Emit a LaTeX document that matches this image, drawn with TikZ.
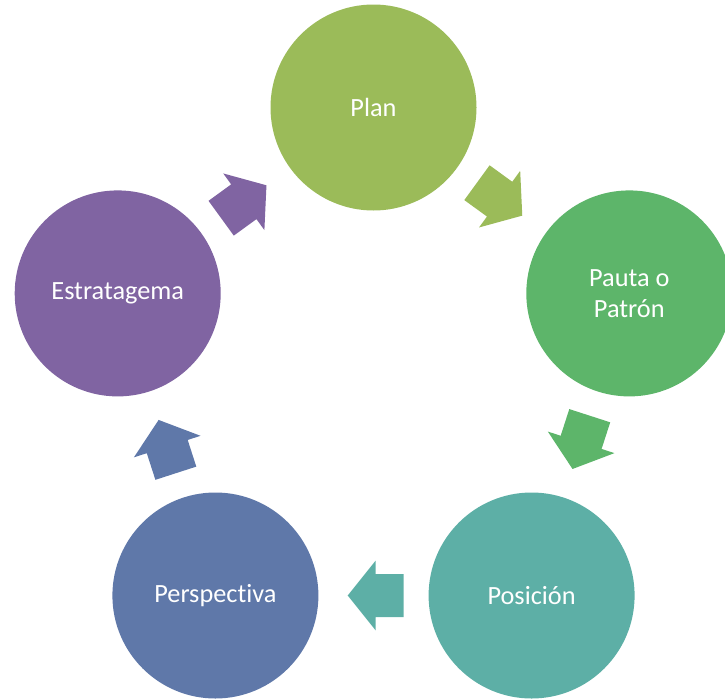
\documentclass[tikz,border=0pt]{standalone}
\usepackage{fontspec}
\setmainfont{Carlito}[Ligatures={NoCommon}]
\usetikzlibrary{calc}
\definecolor{cplan}{HTML}{9BBB59}
\definecolor{cpauta}{HTML}{5DB56A}
\definecolor{cpos}{HTML}{5DAFA6}
\definecolor{cpers}{HTML}{5F78A9}
\definecolor{cestr}{HTML}{8064A2}
\tikzset{
  stage/.style={circle, minimum size=206pt, inner sep=0pt, text=white,
    font=\fontsize{26.3}{31}\selectfont, align=center},
  blockarrow/.pic={\fill[pic actions] (-28pt,-21.5pt) -- (0pt,-21.5pt) -- (0pt,-35pt) -- (28pt,0pt)
      -- (0pt,35pt) -- (0pt,21.5pt) -- (-28pt,21.5pt) -- cycle;}
}
\newcommand{\cyclearrow}[3]{%
  \path let \p1 = ($(#2)-(#1)$), \n1 = {atan2(\y1,\x1)} in
    ($(#1)!0.493!(#2)$) pic[rotate=\n1, fill=#3] {blockarrow};}
\begin{document}
\begin{tikzpicture}[x=1pt,y=-1pt]
\useasboundingbox (0,0) rectangle (725,699);
\clip (0,0) rectangle (725,699);
\node[stage, fill=cplan] (plan) at (373.5,107.5) {Plan};
\node[stage, fill=cpauta] (pauta) at (629.3,293.4) {Pauta o\\Patrón};
\node[stage, fill=cpos] (pos) at (531.6,595.5) {Posición};
\node[stage, fill=cpers] (pers) at (215.4,595.5) {Perspectiva};
\node[stage, fill=cestr] (estr) at (117.7,293.4) {Estratagema};
\cyclearrow{plan}{pauta}{cplan}
\cyclearrow{pauta}{pos}{cpauta}
\cyclearrow{pos}{pers}{cpos}
\cyclearrow{pers}{estr}{cpers}
\cyclearrow{estr}{plan}{cestr}
\end{tikzpicture}
\end{document}
